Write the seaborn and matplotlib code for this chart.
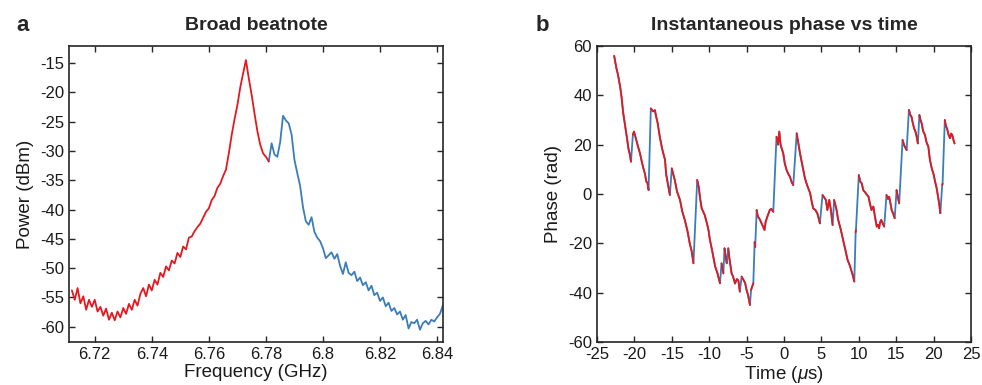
"""
Two-panel figure: broad beatnote spectrum (a) and instantaneous phase vs time (b).
"""
import numpy as np
import pandas as pd
import matplotlib
matplotlib.use("Agg")
import matplotlib.pyplot as plt
import seaborn as sns
from matplotlib.ticker import MultipleLocator, FormatStrFormatter

RED = "#E4191F"
BLUE = "#3A7DBA"
INK = "#262626"

# ---- panel a: spectrum (GHz, dBm) ----
red_freq = [6.712, 6.713, 6.714, 6.715, 6.716, 6.717, 6.718, 6.719, 6.720,
            6.721, 6.722, 6.723, 6.724, 6.725, 6.726, 6.727, 6.728, 6.729, 6.730,
            6.731, 6.732, 6.733, 6.734, 6.735, 6.736, 6.737, 6.738, 6.739, 6.740,
            6.741, 6.742, 6.743, 6.744, 6.745, 6.746, 6.747, 6.748, 6.749, 6.750,
            6.751, 6.752, 6.753, 6.754, 6.755, 6.756, 6.757, 6.758, 6.759, 6.760,
            6.761, 6.762, 6.763, 6.764, 6.765, 6.766, 6.767, 6.768, 6.769, 6.770,
            6.771, 6.772, 6.773, 6.774, 6.775, 6.776, 6.777, 6.778, 6.779, 6.780,
            6.781]
red_power = [-53.8, -55.4, -53.4, -56.0, -54.8, -57.1, -55.4, -56.6, -55.4,
             -57.4, -56.6, -58.1, -56.9, -58.8, -57.6, -58.9, -57.4, -58.4, -56.8,
             -57.8, -56.1, -57.1, -55.4, -56.4, -54.4, -53.4, -54.8, -52.8, -53.8,
             -52.0, -52.8, -50.8, -51.5, -49.7, -50.4, -48.7, -49.2, -47.4, -48.1,
             -46.3, -46.8, -44.8, -44.6, -43.7, -43.0, -42.4, -41.4, -40.4, -39.8,
             -38.4, -37.7, -36.3, -35.6, -34.3, -33.2, -30.4, -27.3, -24.6, -22.2,
             -19.2, -16.8, -14.5, -17.6, -20.4, -23.6, -26.6, -28.9, -30.4, -31.0,
             -31.8]

blue_freq = [6.781, 6.782, 6.783, 6.784, 6.785, 6.786, 6.787, 6.788, 6.789, 6.790,
             6.791, 6.792, 6.793, 6.794, 6.795, 6.796, 6.797, 6.798, 6.799, 6.800,
             6.801, 6.802, 6.803, 6.804, 6.805, 6.806, 6.807, 6.808, 6.809, 6.810,
             6.811, 6.812, 6.813, 6.814, 6.815, 6.816, 6.817, 6.818, 6.819, 6.820,
             6.821, 6.822, 6.823, 6.824, 6.825, 6.826, 6.827, 6.828, 6.829, 6.830,
             6.831, 6.832, 6.833, 6.834, 6.835, 6.836, 6.837, 6.838, 6.839, 6.840,
             6.841, 6.842]
blue_power = [-31.8, -28.7, -30.6, -31.0, -28.5, -24.0, -24.8, -25.3, -27.2, -31.5,
              -33.8, -36.0, -39.6, -42.0, -42.6, -41.3, -43.8, -44.8, -45.4, -46.6,
              -48.3, -47.8, -47.3, -48.4, -47.6, -49.6, -51.0, -49.0, -50.8, -51.2,
              -50.6, -52.2, -51.6, -52.9, -52.4, -53.8, -53.0, -54.6, -54.2, -55.6,
              -55.0, -56.5, -55.9, -57.3, -56.8, -57.9, -57.4, -58.8, -58.0, -60.3,
              -59.2, -59.4, -58.8, -60.5, -59.4, -59.0, -59.6, -58.8, -59.1, -58.4,
              -57.8, -56.4]

# ---- panel b: phase trace (us, rad); red segments restart at each slip ----
phase_time = [
    -22.7, -22.4, -22.2, -21.9, -21.7, -21.5, -21.3, -21.1, -20.95, -20.8, -20.6, -20.45,
    -20.2, -20.05, -19.8, -19.5, -19.25, -19.0, -18.8, -18.6, -18.4, -18.25, -18.1,
    -17.8, -17.5, -17.25, -17.1, -16.9, -16.6, -16.3, -15.9, -15.75, -15.6, -15.4, -15.25,
    -15.0, -14.8, -14.6, -14.3, -13.9, -13.6, -13.2, -12.9, -12.6, -12.35, -12.1,
    -11.6, -11.4, -11.2, -11.0, -10.6, -10.3, -10.1, -9.9, -9.6, -9.2, -8.9, -8.7, -8.55,
    -8.35, -8.2, -8.1,
    -7.95, -7.8, -7.65,
    -7.45, -7.3, -7.0, -6.8, -6.55, -6.3, -6.1, -5.9,
    -5.66, -5.4, -5.2, -5.0, -4.8, -4.55,
    -4.4, -4.25, -4.1,
    -3.92, -3.85,
    -3.65, -3.5, -3.2, -2.9, -2.6, -2.45, -2.2, -1.9, -1.7, -1.43,
    -1.0, -0.8, -0.63, -0.45, -0.1, 0.1, 0.35, 0.6, 0.8, 1.0, 1.24,
    1.7, 1.9, 2.14, 2.5, 2.8, 3.1, 3.5, 3.7, 3.9, 4.2, 4.45, 4.65, 4.8,
    5.15, 5.4, 5.6, 5.8, 6.05, 6.3, 6.5,
    6.7, 7.0, 7.25, 7.6, 7.9, 8.2, 8.5, 8.8, 9.05, 9.2, 9.4,
    9.58, 9.62,
    10.0, 10.2, 10.4, 10.6, 10.8, 11.0, 11.3, 11.5, 11.7, 11.95, 12.15, 12.4, 12.55,
    12.7, 12.85, 13.0, 13.2, 13.4,
    13.7, 13.9, 14.06, 14.25, 14.4, 14.6, 14.8,
    15.05, 15.2, 15.4,
    15.85, 16.1, 16.4,
    16.7, 16.9, 17.05, 17.2, 17.4, 17.6, 17.75, 17.9,
    18.1, 18.25, 18.4, 18.6, 18.85, 19.05, 19.3, 19.5, 19.75, 20.0, 20.2, 20.4, 20.6,
    20.75, 20.9,
    21.15, 21.2,
    21.5, 21.65, 21.8, 22.0, 22.2, 22.35, 22.5, 22.65, 22.8,
]
phase_rad = [
    56.0, 51.0, 48.5, 43.5, 39.0, 33.0, 29.0, 25.0, 21.9, 18.5, 16.0, 13.1,
    24.0, 25.3, 22.5, 19.0, 16.5, 13.0, 10.5, 8.4, 5.0, 4.5, 1.6,
    34.7, 33.5, 34.0, 31.5, 29.0, 23.2, 18.5, 13.8, 8.0, 5.5, 2.0, -0.4,
    10.4, 8.0, 5.7, 1.0, -2.4, -7.0, -11.2, -15.0, -20.0, -23.0, -28.1,
    5.7, 3.0, -2.0, -5.8, -8.5, -11.9, -14.5, -18.6, -23.0, -29.4, -32.0, -34.5, -36.2,
    -28.1, -30.5, -32.2,
    -22.0, -25.4, -28.1,
    -22.0, -26.0, -32.2, -33.5, -36.3, -34.5, -35.0, -39.6,
    -33.5, -34.9, -36.0, -38.9, -41.0, -45.0,
    -38.9, -37.5, -36.2,
    -19.5, -21.5,
    -6.5, -9.0, -10.5, -12.5, -14.6, -11.2, -9.0, -6.5, -6.0, -7.2,
    23.2, 20.0, 25.3, 19.9, 16.5, 12.5, 9.7, 8.0, 7.0, 5.0, 3.6,
    24.6, 21.0, 16.5, 11.0, 6.4, 3.5, 0.3, -3.0, -5.8, -6.5, -7.8, -10.0, -11.9,
    -0.4, -1.5, -2.4, -6.5, -2.4, -7.0, -12.6,
    -2.4, -6.0, -10.5, -14.5, -18.6, -22.5, -26.7, -29.0, -31.5, -33.0, -35.5,
    -15.5, -14.5,
    7.7, 5.0, 4.3, 1.5, 0.9, 0.0, -1.1, -4.0, -6.5, -5.1, -9.0, -13.2, -12.5,
    -13.9, -11.5, -10.5, -12.0, -13.2,
    -0.4, -2.0, -1.1, -4.0, -6.5, -8.0, -9.8,
    1.6, -1.0, -3.8,
    21.9, 19.5, 17.8,
    34.1, 32.0, 31.3, 29.0, 26.6, 25.0, 23.0, 20.5,
    32.0, 30.0, 28.7, 25.5, 23.9, 21.0, 19.2, 14.0, 10.4, 8.0, 5.0, 2.5, -1.1,
    -4.0, -7.8,
    3.6, 4.2,
    30.0, 27.5, 26.6, 24.0, 22.6, 24.5, 23.9, 22.0, 20.5,
]
slip_start = [-20.2, -17.8, -15.0, -11.6, -8.35, -7.95, -7.45, -5.66, -4.4, -3.92,
              -3.65, -1.0, 1.7, 5.15, 6.7, 9.58, 10.0, 13.7, 15.05, 15.85, 16.7,
              18.1, 21.15, 21.5]

sns.set_style("ticks")
plt.rcParams["font.family"] = ["Liberation Sans", "DejaVu Sans"]
plt.rcParams["axes.unicode_minus"] = False
plt.rcParams["mathtext.fontset"] = "custom"
plt.rcParams["mathtext.rm"] = "Liberation Sans"
plt.rcParams["mathtext.it"] = "Liberation Sans:italic"

TXT = "#1a1a1a"


def style_ax(ax):
    ax.tick_params(direction="in", top=True, right=True, length=4, width=1,
                   colors=INK, labelsize=12, labelcolor=TXT)
    for s in ax.spines.values():
        s.set_visible(True)
        s.set_linewidth(1.2)
        s.set_color(INK)


fig = plt.figure(figsize=(9.82, 3.85), dpi=100)
ax1 = fig.add_axes([0.0703, 0.1117, 0.3809, 0.7688])
ax2 = fig.add_axes([0.6079, 0.1117, 0.3809, 0.7688])

# panel a
spec_red = pd.DataFrame({"freq": red_freq, "power": red_power})
spec_blue = pd.DataFrame({"freq": blue_freq, "power": blue_power})
sns.lineplot(data=spec_blue, x="freq", y="power", color=BLUE, lw=1.3,
             estimator=None, sort=False, ax=ax1)
sns.lineplot(data=spec_red, x="freq", y="power", color=RED, lw=1.3,
             estimator=None, sort=False, ax=ax1)
ax1.set_xlim(6.711, 6.8421)
ax1.set_ylim(-62.6, -12.1)
ax1.xaxis.set_major_locator(MultipleLocator(0.02))
ax1.xaxis.set_major_formatter(FormatStrFormatter("%g"))
ax1.set_yticks([-15, -20, -25, -30, -35, -40, -45, -50, -55, -60])
ax1.set_xlabel("Frequency (GHz)", fontsize=13.5, color=TXT, labelpad=1.5)
ax1.set_ylabel("Power (dBm)", fontsize=13.5, color=TXT)
ax1.set_title("Broad beatnote", fontsize=14, fontweight="bold", pad=11.5)
style_ax(ax1)

# panel b
phase = pd.DataFrame({"t": phase_time, "phase": phase_rad})
phase["seg"] = phase["t"].isin(slip_start).cumsum()
sns.lineplot(data=phase, x="t", y="phase", color=BLUE, lw=1.3,
             estimator=None, sort=False, ax=ax2)
sns.lineplot(data=phase, x="t", y="phase", units="seg", color=RED, lw=1.3,
             estimator=None, sort=False, ax=ax2)
ax2.set_xlim(-25, 25)
ax2.set_ylim(-60, 60)
ax2.xaxis.set_major_locator(MultipleLocator(5))
ax2.yaxis.set_major_locator(MultipleLocator(20))
ax2.set_xlabel(r"Time ($\mu$s)", fontsize=13.5, color=TXT, labelpad=1.5)
ax2.set_ylabel("Phase (rad)", fontsize=13.5, color=TXT)
ax2.set_title("Instantaneous phase vs time", fontsize=14, fontweight="bold", pad=11.5)
style_ax(ax2)

fig.text(0.017, 0.919, "a", fontsize=16, fontweight="bold", va="baseline")
fig.text(0.545, 0.919, "b", fontsize=16, fontweight="bold", va="baseline")

fig.savefig("out.png", dpi=100)
plt.close(fig)
